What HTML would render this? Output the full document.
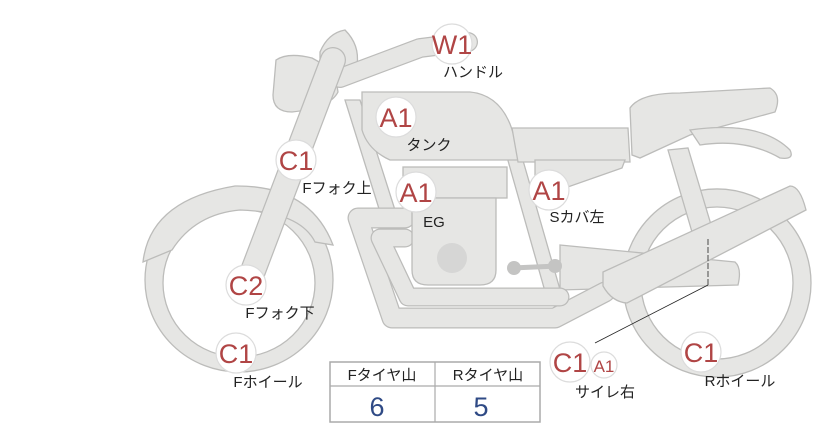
<!DOCTYPE html>
<html><head><meta charset="utf-8"><style>
body{margin:0;background:#fff;width:822px;height:425px;overflow:hidden;font-family:"Liberation Sans","Noto Sans CJK JP",sans-serif}
svg{position:absolute;left:0;top:0}
.f{fill:#e6e6e4;stroke:#bcbcba;stroke-width:1.3}
.o{fill:none;stroke:#bcbcba;stroke-linecap:round;stroke-linejoin:round}
.i{fill:none;stroke:#e6e6e4;stroke-linecap:round;stroke-linejoin:round}
.m{fill:#fff;stroke:#dcdcdc;stroke-width:1.2}
.mt{fill:#b04545;font-size:27px;font-family:"Liberation Sans",sans-serif;text-anchor:middle}
.lb{fill:#222;font-size:15px;font-family:"Liberation Sans","Noto Sans CJK JP",sans-serif;text-anchor:middle}
</style></head><body>
<svg width="822" height="425" viewBox="0 0 822 425">
<!-- front wheel -->
<path class="f" fill-rule="evenodd" d="M145,280a94,92 0 1,0 188,0a94,92 0 1,0 -188,0Z M163,283a76,74 0 1,0 152,0a76,74 0 1,0 -152,0Z"/>
<!-- front fender -->
<path class="f" d="M143,262 Q150,200 235,186 Q310,185 333,245 L315,242 Q300,212 240,210 Q195,214 172,250 Z"/>
<!-- rear wheel -->
<path class="f" fill-rule="evenodd" d="M623,283a94,94 0 1,0 188,0a94,94 0 1,0 -188,0Z M641,283a76,76 0 1,0 152,0a76,76 0 1,0 -152,0Z"/>
<!-- rear shock -->
<path class="f" d="M668,150 L688,148 L712,228 L692,232 Z"/>
<!-- swingarm -->
<path class="f" d="M560,245 L735,262 Q742,268 738,285 L560,290 Z"/>
<!-- frame tubes -->
<path class="f" d="M345,100 L360,100 L395,210 L380,212 Z"/>
<path class="f" d="M505,150 L520,150 L563,300 L548,302 Z"/>
<!-- pipes -->
<path class="o" stroke-width="21" d="M405,218 L358,218 L392,318 L555,318 L605,292"/>
<path class="i" stroke-width="18.5" d="M405,218 L358,218 L392,318 L555,318 L605,292"/>
<path class="o" stroke-width="19" d="M405,238 L380,238 L408,297 L560,297"/>
<path class="i" stroke-width="16.5" d="M405,238 L380,238 L408,297 L560,297"/>
<!-- headlight -->
<path class="f" d="M276,60 Q288,52 312,58 Q336,70 338,92 Q330,108 292,112 Q273,112 273,95 Z"/>
<path class="f" d="M320,52 Q328,33 345,30 Q360,45 357,65 Q340,72 320,66 Z"/>
<!-- handlebar -->
<path class="o" stroke-width="20" d="M340,78 L420,48 L468,42"/>
<path class="i" stroke-width="17.5" d="M340,78 L420,48 L468,42"/>
<!-- fork -->
<path class="o" stroke-width="26" d="M333,60 L245,292"/>
<path class="i" stroke-width="23.5" d="M333,60 L245,292"/>
<!-- tank -->
<path class="f" d="M362,92 L470,92 Q512,96 518,160 L390,160 Q368,150 362,130 Z"/>
<!-- seats -->
<path class="f" d="M512,128 L628,128 L630,162 L518,162 Z"/>
<path class="f" d="M630,108 Q640,93 680,93 L770,88 Q782,95 775,112 L690,135 L640,158 L632,155 Z"/>
<path class="f" d="M690,130 Q760,120 790,150 Q795,160 780,158 Q745,138 700,145 Z"/>
<!-- side cover -->
<path class="f" d="M535,160 L625,160 L622,168 L545,195 L535,195 Z"/>
<!-- engine -->
<rect class="f" x="403" y="167" width="104" height="31"/>
<path class="f" d="M412,198 L496,198 L496,270 Q496,285 480,285 L428,285 Q412,285 412,270 Z"/>
<circle cx="452" cy="258" r="15" fill="#d6d6d5"/>
<path d="M512,268 L558,266" stroke="#c4c4c3" stroke-width="5"/>
<circle cx="514" cy="268" r="7" fill="#c4c4c3"/><circle cx="555" cy="266" r="7" fill="#c4c4c3"/>
<!-- muffler -->
<path class="f" d="M603,272 L790,186 Q800,186 806,210 L627,303 Q612,302 603,286 Z"/>
<!-- leader -->
<path d="M595,343 L708,285" stroke="#222" stroke-width="0.8" fill="none"/>
<path d="M708,285 L708,238" stroke="#222" stroke-width="0.8" stroke-dasharray="6,2" fill="none"/>
<!-- markers -->
<circle class="m" cx="452" cy="44" r="20"/><text class="mt" x="452" y="54">W1</text>
<text class="lb" x="473" y="77">ハンドル</text>
<circle class="m" cx="396" cy="117" r="20"/><text class="mt" x="396" y="127">A1</text>
<text class="lb" x="429" y="150">タンク</text>
<circle class="m" cx="296" cy="160" r="20"/><text class="mt" x="296" y="170">C1</text>
<text class="lb" x="337" y="193">Fフォク上</text>
<circle class="m" cx="416" cy="192" r="20"/><text class="mt" x="416" y="202">A1</text>
<text class="lb" x="434" y="227">EG</text>
<circle class="m" cx="549" cy="190" r="20"/><text class="mt" x="549" y="200">A1</text>
<text class="lb" x="577" y="222">Sカバ左</text>
<circle class="m" cx="246" cy="285" r="20"/><text class="mt" x="246" y="295">C2</text>
<text class="lb" x="280" y="318">Fフォク下</text>
<circle class="m" cx="236" cy="353" r="20"/><text class="mt" x="236" y="363">C1</text>
<text class="lb" x="268" y="387">Fホイール</text>
<circle class="m" cx="570" cy="362" r="20"/><text class="mt" x="570" y="372">C1</text>
<circle class="m" cx="604" cy="365" r="13"/><text class="mt" x="604" y="372" style="font-size:17px">A1</text>
<text class="lb" x="605" y="397">サイレ右</text>
<circle class="m" cx="701" cy="352" r="20"/><text class="mt" x="701" y="362">C1</text>
<text class="lb" x="740" y="386">Rホイール</text>
<!-- table -->
<rect x="330" y="362" width="210" height="60" fill="#fff" stroke="#aaa" stroke-width="1.5"/>
<line x1="330" y1="386" x2="540" y2="386" stroke="#aaa" stroke-width="1.2"/>
<line x1="435" y1="362" x2="435" y2="422" stroke="#aaa" stroke-width="1.2"/>
<text class="lb" x="382" y="380">Fタイヤ山</text>
<text class="lb" x="488" y="380">Rタイヤ山</text>
<text x="377" y="416" fill="#2f4a85" font-size="27" text-anchor="middle" font-family="Liberation Sans,sans-serif">6</text>
<text x="481" y="416" fill="#2f4a85" font-size="27" text-anchor="middle" font-family="Liberation Sans,sans-serif">5</text>
</svg>
</body></html>
